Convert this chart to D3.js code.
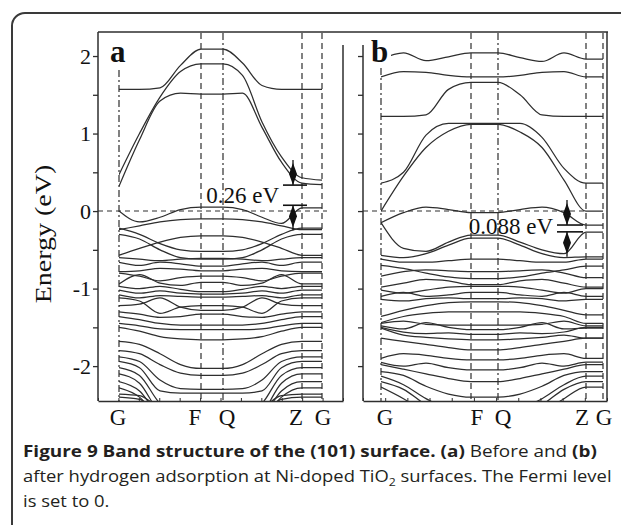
<!DOCTYPE html>
<html><head><meta charset="utf-8">
<script src="https://cdn.jsdelivr.net/npm/d3@7"></script>
<style>body{margin:0;background:#fff}svg{display:block}</style>
</head><body>
<svg id="c" width="621" height="525"></svg>
<script>
// ---------------- DATA ----------------
const energyMajor = [2, 1, 0, -1, -2];
const energyMinor = [1.5, 0.5, -0.5, -1.5];
const energyAll = [2, 1.5, 1, 0.5, 0, -0.5, -1, -1.5, -2];
const kLabels = ["G", "F", "Q", "Z", "G"];
const kSymA = [0, 0.82, 1.04, 1.83, 2.03];
const kSymB = [0, 0.90, 1.17, 2.05, 2.22];
const kSampleA = [0, 0.205, 0.41, 0.615, 0.82, 1.04, 1.235, 1.43, 1.625, 1.83, 2.03];
const kSampleB = [0, 0.225, 0.45, 0.675, 0.90, 1.17, 1.39, 1.61, 1.83, 2.05, 2.22];

const condA = [
  [1.57, 1.57, 1.59, 1.88, 2.09, 2.09, 1.91, 1.62, 1.57, 1.57, 1.57],
  [0.47, 1.00, 1.47, 1.80, 1.90, 1.90, 1.75, 1.15, 0.70, 0.43, 0.40],
  [0.32, 0.92, 1.42, 1.52, 1.51, 1.51, 1.52, 1.08, 0.63, 0.36, 0.34]
];
const valA = [
  [0.00, -0.14, -0.08, 0.02, 0.05, 0.05, 0.02, -0.08, -0.16, 0.04, 0.04],
  [-0.24, -0.19, -0.14, -0.11, -0.10, -0.10, -0.11, -0.14, -0.19, -0.24, -0.24],
  [-0.22, -0.30, -0.42, -0.50, -0.52, -0.52, -0.50, -0.42, -0.30, -0.22, -0.22],
  [-0.57, -0.48, -0.40, -0.34, -0.32, -0.32, -0.34, -0.40, -0.48, -0.57, -0.57],
  [-0.30, -0.36, -0.50, -0.60, -0.62, -0.62, -0.60, -0.50, -0.36, -0.30, -0.30],
  [-0.60, -0.62, -0.64, -0.62, -0.61, -0.61, -0.62, -0.64, -0.62, -0.60, -0.60],
  [-0.66, -0.70, -0.66, -0.68, -0.71, -0.71, -0.68, -0.66, -0.70, -0.66, -0.66],
  [-0.78, -0.77, -0.74, -0.75, -0.77, -0.77, -0.75, -0.74, -0.77, -0.78, -0.78],
  [-0.80, -0.84, -0.90, -0.86, -0.84, -0.84, -0.86, -0.90, -0.84, -0.80, -0.80],
  [-0.94, -0.82, -0.93, -0.96, -0.92, -0.92, -0.96, -0.93, -0.82, -0.94, -0.94],
  [-0.97, -1.00, -0.97, -1.01, -1.04, -1.04, -1.01, -0.97, -1.00, -0.97, -0.97],
  [-1.02, -1.06, -1.03, -1.06, -1.07, -1.07, -1.06, -1.03, -1.06, -1.02, -1.02],
  [-1.08, -1.12, -1.09, -1.10, -1.11, -1.11, -1.10, -1.09, -1.12, -1.08, -1.08],
  [-1.12, -1.16, -1.32, -1.24, -1.22, -1.22, -1.24, -1.32, -1.16, -1.12, -1.12],
  [-1.22, -1.20, -1.12, -1.24, -1.28, -1.28, -1.24, -1.12, -1.20, -1.22, -1.22],
  [-1.30, -1.33, -1.37, -1.36, -1.33, -1.33, -1.36, -1.37, -1.33, -1.30, -1.30],
  [-1.36, -1.40, -1.45, -1.47, -1.47, -1.47, -1.47, -1.45, -1.40, -1.36, -1.36],
  [-1.45, -1.48, -1.52, -1.53, -1.53, -1.53, -1.53, -1.52, -1.48, -1.45, -1.45],
  [-1.50, -1.55, -1.62, -1.65, -1.66, -1.66, -1.65, -1.62, -1.55, -1.50, -1.50],
  [-1.68, -1.72, -1.84, -1.98, -2.03, -2.03, -1.98, -1.84, -1.72, -1.68, -1.68],
  [-1.80, -1.84, -1.98, -2.09, -2.12, -2.12, -2.09, -1.98, -1.84, -1.80, -1.80],
  [-1.88, -1.94, -2.18, -2.29, -2.30, -2.30, -2.29, -2.18, -1.94, -1.88, -1.88],
  [-1.94, -2.02, -2.32, -2.35, -2.35, -2.35, -2.35, -2.32, -2.02, -1.94, -1.94],
  [-2.02, -2.12, -2.48, -2.60, -2.60, -2.60, -2.60, -2.48, -2.12, -2.02, -2.02],
  [-2.10, -2.22, -2.60, -2.70, -2.70, -2.70, -2.70, -2.60, -2.22, -2.10, -2.10],
  [-2.20, -2.32, -2.65, -2.75, -2.75, -2.75, -2.75, -2.65, -2.32, -2.20, -2.20],
  [-2.28, -2.40, -2.70, -2.80, -2.80, -2.80, -2.80, -2.70, -2.40, -2.28, -2.28],
  [-2.36, -2.38, -2.55, -2.70, -2.70, -2.70, -2.70, -2.55, -2.38, -2.36, -2.36],
  [-2.40, -2.43, -2.60, -2.70, -2.70, -2.70, -2.70, -2.60, -2.43, -2.40, -2.40]
];
const condB = [
  [1.96, 2.04, 1.94, 1.99, 2.04, 2.04, 1.98, 1.93, 2.04, 1.96, 1.96],
  [1.73, 1.80, 1.79, 1.75, 1.73, 1.73, 1.75, 1.79, 1.80, 1.73, 1.73],
  [1.22, 1.22, 1.24, 1.57, 1.66, 1.66, 1.50, 1.24, 1.22, 1.22, 1.22],
  [0.36, 0.50, 0.98, 1.13, 1.13, 1.13, 1.13, 0.95, 0.55, 0.36, 0.36],
  [0.00, 0.45, 0.82, 1.03, 1.12, 1.12, 1.02, 0.82, 0.40, 0.00, 0.00]
];
const valB = [
  [-0.15, -0.02, 0.05, 0.02, -0.02, -0.02, 0.02, 0.05, -0.02, -0.18, -0.18],
  [-0.15, -0.48, -0.52, -0.40, -0.31, -0.31, -0.40, -0.50, -0.55, -0.27, -0.27],
  [-0.57, -0.60, -0.55, -0.44, -0.35, -0.35, -0.44, -0.55, -0.60, -0.59, -0.59],
  [-0.62, -0.66, -0.66, -0.64, -0.62, -0.62, -0.64, -0.66, -0.66, -0.62, -0.62],
  [-0.70, -0.74, -0.80, -0.85, -0.87, -0.87, -0.85, -0.80, -0.76, -0.71, -0.71],
  [-0.84, -0.78, -0.76, -0.77, -0.78, -0.78, -0.77, -0.76, -0.80, -0.86, -0.86],
  [-0.98, -0.93, -0.88, -0.90, -0.95, -0.95, -0.90, -0.88, -0.93, -0.98, -0.98],
  [-1.02, -1.06, -1.02, -0.98, -0.97, -0.97, -0.98, -1.02, -1.06, -1.00, -1.00],
  [-1.10, -1.05, -1.10, -1.08, -1.05, -1.05, -1.08, -1.10, -1.05, -1.10, -1.10],
  [-1.14, -1.16, -1.13, -1.12, -1.13, -1.13, -1.12, -1.13, -1.16, -1.14, -1.14],
  [-1.36, -1.28, -1.22, -1.18, -1.17, -1.17, -1.18, -1.22, -1.28, -1.34, -1.34],
  [-1.44, -1.36, -1.32, -1.30, -1.30, -1.30, -1.30, -1.32, -1.36, -1.45, -1.45],
  [-1.45, -1.42, -1.46, -1.47, -1.47, -1.47, -1.47, -1.46, -1.42, -1.48, -1.48],
  [-1.48, -1.52, -1.44, -1.50, -1.53, -1.53, -1.50, -1.44, -1.52, -1.51, -1.51],
  [-1.50, -1.56, -1.58, -1.57, -1.59, -1.59, -1.57, -1.58, -1.56, -1.50, -1.50],
  [-1.51, -1.60, -1.63, -1.65, -1.66, -1.66, -1.65, -1.63, -1.60, -1.64, -1.64],
  [-1.64, -1.68, -1.72, -1.76, -1.79, -1.79, -1.76, -1.72, -1.68, -1.64, -1.64],
  [-1.90, -1.84, -1.86, -1.90, -1.92, -1.92, -1.90, -1.86, -1.84, -1.90, -1.90],
  [-1.95, -2.00, -1.96, -2.02, -2.05, -2.05, -2.02, -1.96, -2.00, -1.95, -1.95],
  [-1.98, -2.04, -2.10, -2.16, -2.20, -2.20, -2.16, -2.10, -2.04, -1.98, -1.98],
  [-2.07, -2.12, -2.26, -2.36, -2.40, -2.40, -2.36, -2.26, -2.12, -2.07, -2.07],
  [-2.13, -2.24, -2.42, -2.55, -2.60, -2.60, -2.55, -2.42, -2.24, -2.13, -2.13],
  [-2.20, -2.30, -2.50, -2.65, -2.70, -2.70, -2.65, -2.50, -2.30, -2.20, -2.20],
  [-2.27, -2.42, -2.60, -2.70, -2.75, -2.75, -2.70, -2.60, -2.42, -2.27, -2.27]
];
const gapA = [0.075, 0.335];
const gapB = [-0.268, -0.18];
const gapLabelA = "0.26 eV";
const gapLabelB = "0.088 eV";
const panelLabels = ["a", "b"];
const yTitle = "Energy (eV)";

// ---------------- LAYOUT ----------------
const svg = d3.select("#c");
const ink = "#2e2e2e";
const serif = "'Liberation Serif','Times New Roman',serif";

svg.append("rect").attr("x", 12).attr("y", 13).attr("width", 660).attr("height", 560)
  .attr("rx", 13).attr("fill", "none").attr("stroke", "#3a3a3a").attr("stroke-width", 2);

const y = d3.scaleLinear().domain([-2.45, 2.31]).range([401, 32]);
const xA = d3.scaleLinear().domain([0, 2.03]).range([119, 322]);
const xB = d3.scaleLinear().domain([0, 2.22]).range([381, 603]);

const defs = svg.append("defs");
defs.append("clipPath").attr("id", "clipA").append("rect")
  .attr("x", 119).attr("y", 32).attr("width", 203).attr("height", 369);
defs.append("clipPath").attr("id", "clipB").append("rect")
  .attr("x", 381).attr("y", 32).attr("width", 222).attr("height", 369);

function drawPanel(cfg) {
  const g = svg.append("g");
  const x = cfg.x;
  cfg.kSym.forEach((k, i) => {
    g.append("line").attr("x1", x(k)).attr("x2", x(k))
      .attr("y1", i === 0 ? cfg.gTop : 33).attr("y2", 401)
      .attr("stroke", ink).attr("stroke-width", 1.2)
      .attr("stroke-dasharray", (i === 0 || i === 2) ? "7,3,2,3" : "6,4");
  });
  g.append("line").attr("x1", cfg.axisX).attr("x2", cfg.fermiEnd)
    .attr("y1", y(0)).attr("y2", y(0))
    .attr("stroke", ink).attr("stroke-width", 1.1).attr("stroke-dasharray", "5,4");
  const ln = d3.line().x((d, i) => x(cfg.kSample[i])).y(d => y(d)).curve(d3.curveMonotoneX);
  const bg = g.append("g").attr("clip-path", `url(#${cfg.clip})`);
  cfg.cond.concat(cfg.val).forEach(b => {
    bg.append("path").attr("d", ln(b)).attr("fill", "none")
      .attr("stroke", ink).attr("stroke-width", 1.25);
  });
  const ax = d3.axisLeft(y).tickValues(energyAll).tickSize(5).tickSizeOuter(0).tickPadding(2)
    .tickFormat(d => (cfg.labels && Number.isInteger(d)) ? String(d) : "");
  const ag = g.append("g").attr("transform", `translate(${cfg.axisX},0)`).call(ax);
  ag.select(".domain").remove();
  ag.selectAll("line").attr("stroke", ink).attr("stroke-width", 1.3);
  ag.selectAll("text").attr("font-family", serif).attr("font-size", 22).attr("fill", "#111");
  g.append("line").attr("x1", cfg.axisX).attr("x2", cfg.axisX).attr("y1", cfg.axisTop).attr("y2", 401)
    .attr("stroke", ink).attr("stroke-width", 1.5);
  const bx = d3.scaleLinear().domain([0, cfg.nTicks]).range([cfg.axisX, cfg.rightX]);
  const bax = d3.axisBottom(bx).ticks(cfg.nTicks).tickSize(-3).tickSizeOuter(0).tickFormat("");
  const bgAx = g.append("g").attr("transform", "translate(0,401)").call(bax);
  bgAx.select(".domain").attr("stroke", ink).attr("stroke-width", 1.5);
  bgAx.selectAll("line").attr("stroke", ink);
  g.append("line").attr("x1", cfg.rightX).attr("x2", cfg.rightX).attr("y1", cfg.rightTop).attr("y2", 401)
    .attr("stroke", ink).attr("stroke-width", 1.5);
  cfg.kSym.forEach((k, i) => {
    g.append("text").attr("x", x(k) + cfg.labelDx[i]).attr("y", 425)
      .attr("text-anchor", "middle").attr("font-family", serif).attr("font-size", 23)
      .attr("fill", "#111").text(kLabels[i]);
  });
  g.append("rect").attr("x", cfg.labelX - 2).attr("y", 36).attr("width", 22).attr("height", 30).attr("fill", "#fff");
  g.append("text").attr("x", cfg.labelX).attr("y", 62).attr("font-family", serif)
    .attr("font-weight", "bold").attr("font-size", 31).attr("fill", "#111").text(cfg.panelLabel);
  const yl = y(cfg.gap[0]), yh = y(cfg.gap[1]);
  const ann = g.append("g");
  [yl, yh].forEach(yy => ann.append("line").attr("x1", cfg.barX0).attr("x2", cfg.barX1)
    .attr("y1", yy).attr("y2", yy).attr("stroke", "#111").attr("stroke-width", 1.6));
  const ax0 = cfg.arrowX;
  ann.append("line").attr("x1", ax0).attr("x2", ax0).attr("y1", yh - 25).attr("y2", yh)
    .attr("stroke", "#111").attr("stroke-width", 1.3);
  ann.append("path").attr("d", `M${ax0},${yh} L${ax0 + 4},${yh - 11} L${ax0},${yh - 22} L${ax0 - 4},${yh - 11}Z`).attr("fill", "#111");
  ann.append("line").attr("x1", ax0).attr("x2", ax0).attr("y1", yl).attr("y2", yl + 25)
    .attr("stroke", "#111").attr("stroke-width", 1.3);
  ann.append("path").attr("d", `M${ax0},${yl} L${ax0 + 4},${yl + 11} L${ax0},${yl + 22} L${ax0 - 4},${yl + 11}Z`).attr("fill", "#111");
  ann.append("text").attr("x", cfg.barX0 - 4).attr("y", cfg.gapTextY).attr("text-anchor", "end")
    .attr("font-family", serif).attr("font-size", 23).attr("fill", "#111").text(cfg.gapLabel);
}

svg.append("line").attr("x1", 98).attr("x2", 608).attr("y1", 32).attr("y2", 32)
  .attr("stroke", ink).attr("stroke-width", 1.5);

drawPanel({x: xA, kSym: kSymA, kSample: kSampleA, cond: condA, val: valA, clip: "clipA",
  axisX: 98, axisTop: 32, rightX: 343, rightTop: 45, nTicks: 12, gTop: 70, fermiEnd: 327,
  labels: true, labelDx: [-1, -6, 4, -6, 1], labelX: 110, panelLabel: panelLabels[0],
  gap: gapA, barX0: 283, barX1: 307, arrowX: 293, gapLabel: gapLabelA, gapTextY: 203});
drawPanel({x: xB, kSym: kSymB, kSample: kSampleB, cond: condB, val: valB, clip: "clipB",
  axisX: 363, axisTop: 45, rightX: 607, rightTop: 32, nTicks: 11, gTop: 68, fermiEnd: 586,
  labels: false, labelDx: [4, 6, 5, -4, 1], labelX: 371, panelLabel: panelLabels[1],
  gap: gapB, barX0: 557, barX1: 583, arrowX: 567, gapLabel: gapLabelB, gapTextY: 234});

svg.append("text").attr("transform", "translate(51,234) scale(0.8,1) rotate(-90)")
  .attr("text-anchor", "middle").attr("font-family", serif).attr("font-size", 28)
  .attr("fill", "#111").text(yTitle);

const capFont = "'Open Sans','Noto Sans',sans-serif";
function capLine(yy, parts, target, fixedSx) {
  const t = svg.append("text").attr("font-family", capFont).attr("font-size", 16.5).attr("fill", "#231f20");
  parts.forEach(p => {
    const s = t.append("tspan").text(p.t);
    if (p.b) s.attr("font-weight", 700);
    if (p.sub) s.attr("font-size", 11).attr("dy", 4);
    if (p.up) s.attr("dy", -4);
  });
  const w = t.node().getComputedTextLength();
  const sx = target ? target / w : fixedSx;
  t.attr("transform", `translate(23,${yy}) scale(${sx},1)`);
  return sx;
}
capLine(457, [{t: "Figure 9 Band structure of the (101) surface. (a)", b: true}, {t: " Before and "}, {t: "(b)", b: true}], 574);
const sx2 = capLine(482, [{t: "after hydrogen adsorption at Ni-doped TiO"}, {t: "2", sub: true}, {t: " surfaces. The Fermi level", up: true}], 589);
capLine(507, [{t: "is set to 0."}], null, sx2);
</script>
</body></html>
